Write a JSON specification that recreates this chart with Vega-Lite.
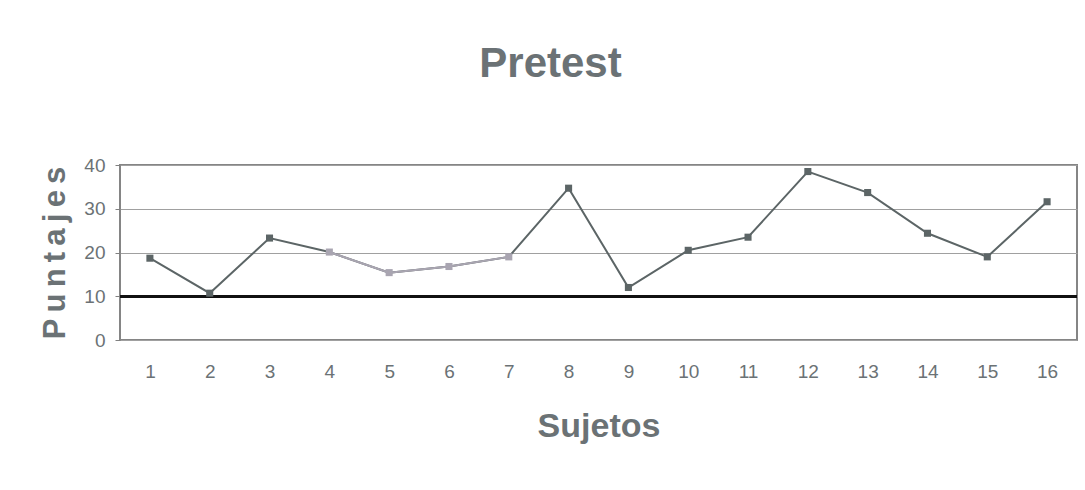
{
  "$schema": "https://vega.github.io/schema/vega-lite/v6.json",
  "autosize": {"type": "none"},
  "padding": {"left": 120, "top": 165, "right": 8, "bottom": 150},
  "width": 957,
  "height": 175,
  "background": "white",
  "title": {
    "text": "Pretest",
    "font": "Liberation Sans",
    "fontSize": 42,
    "fontWeight": "bold",
    "color": "#6b7275",
    "anchor": "middle",
    "dx": -48,
    "offset": 70
  },
  "data": {
    "values": [
      {"sujeto": 1, "puntaje": 18.7},
      {"sujeto": 2, "puntaje": 10.7},
      {"sujeto": 3, "puntaje": 23.3},
      {"sujeto": 4, "puntaje": 20.1},
      {"sujeto": 5, "puntaje": 15.4},
      {"sujeto": 6, "puntaje": 16.8},
      {"sujeto": 7, "puntaje": 19.0},
      {"sujeto": 8, "puntaje": 34.7},
      {"sujeto": 9, "puntaje": 12.0},
      {"sujeto": 10, "puntaje": 20.5},
      {"sujeto": 11, "puntaje": 23.5},
      {"sujeto": 12, "puntaje": 38.5},
      {"sujeto": 13, "puntaje": 33.7},
      {"sujeto": 14, "puntaje": 24.4},
      {"sujeto": 15, "puntaje": 19.0},
      {"sujeto": 16, "puntaje": 31.6}
    ]
  },
  "encoding": {
    "x": {
      "field": "sujeto",
      "type": "ordinal",
      "scale": {"type": "point", "padding": 0.5},
      "axis": {
        "title": "Sujetos",
        "labelAngle": 0,
        "ticks": false,
        "domain": false,
        "labelPadding": 22,
        "titlePadding": 28
      }
    },
    "y": {
      "field": "puntaje",
      "type": "quantitative",
      "scale": {"domain": [0, 40], "nice": false},
      "axis": {
        "title": "P\u2009u\u2009n\u2009t\u2009a\u2009j\u2009e\u2009s",
        "titleFontSize": 31,
        "values": [0, 10, 20, 30, 40],
        "grid": true,
        "gridColor": "#a0a0a0",
        "gridWidth": 1,
        "tickSize": 5,
        "tickColor": "#808080",
        "labelPadding": 10,
        "titlePadding": 12,
        "domain": false
      }
    }
  },
  "layer": [
    {
      "mark": {"type": "rule", "color": "#111111", "strokeWidth": 2.5},
      "encoding": {"x": null, "y": {"datum": 10}}
    },
    {
      "mark": {"type": "line", "color": "#5c6566", "strokeWidth": 2}
    },
    {
      "transform": [{"filter": "datum.sujeto >= 4 && datum.sujeto <= 7"}],
      "mark": {"type": "line", "color": "#a9a5b1", "strokeWidth": 2}
    },
    {
      "mark": {"type": "point", "shape": "square", "filled": true, "size": 50, "opacity": 1},
      "encoding": {
        "color": {
          "condition": {"test": "datum.sujeto >= 4 && datum.sujeto <= 7", "value": "#a9a5b1"},
          "value": "#5c6566"
        }
      }
    }
  ],
  "config": {
    "font": "Liberation Sans",
    "view": {"stroke": "#858585", "strokeWidth": 2},
    "axis": {
      "labelFont": "Liberation Sans",
      "labelFontSize": 19,
      "labelColor": "#6b7275",
      "titleFont": "Liberation Sans",
      "titleFontSize": 34,
      "titleFontWeight": "bold",
      "titleColor": "#6b7275"
    }
  }
}
